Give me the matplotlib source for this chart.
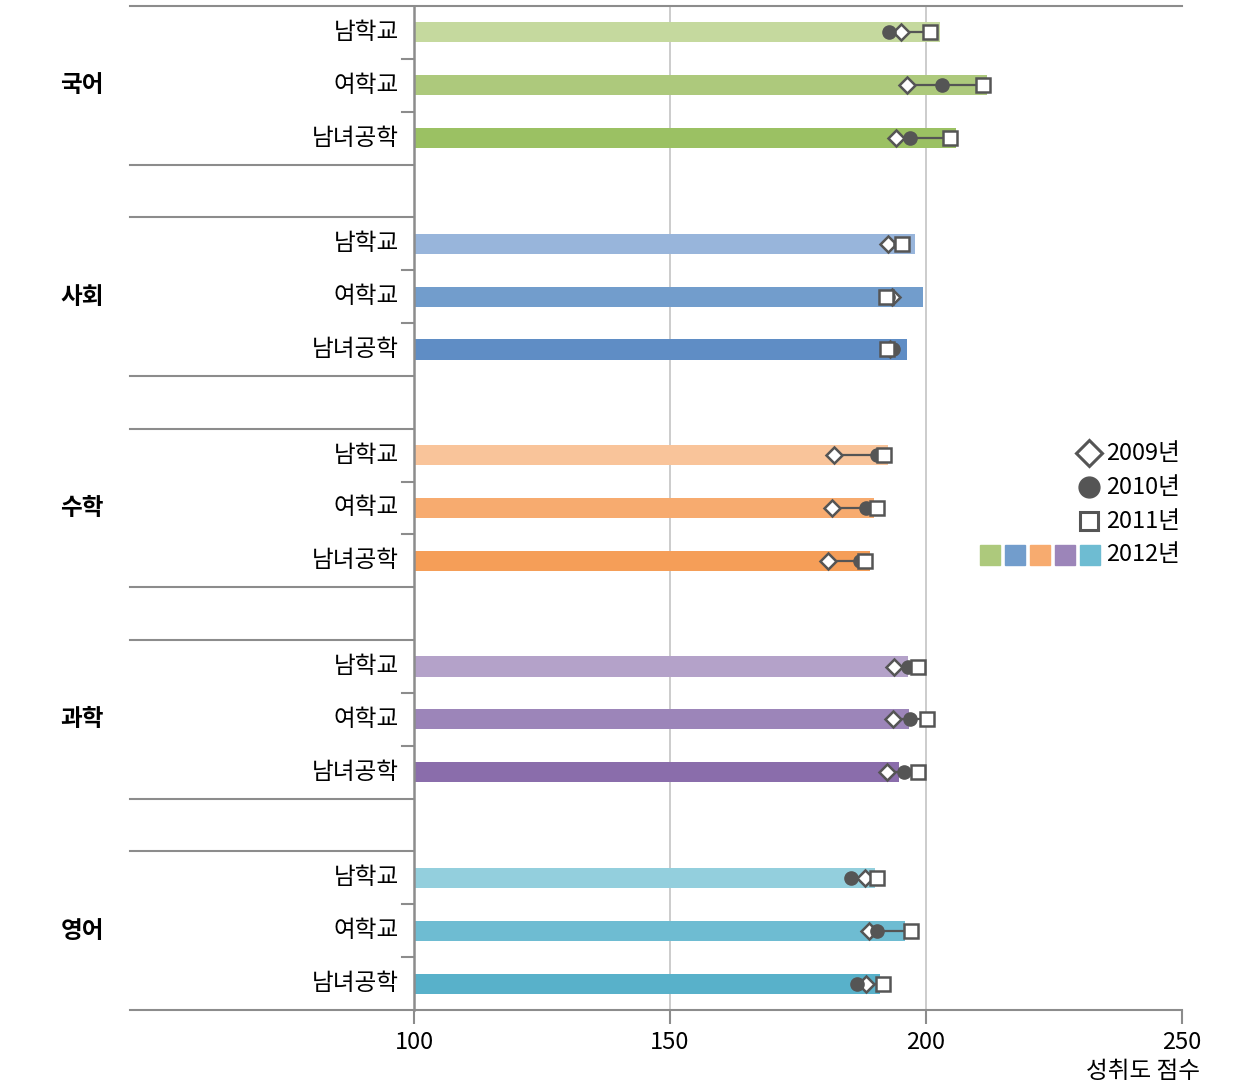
import matplotlib
matplotlib.use("Agg")
import matplotlib.pyplot as plt
import numpy as np

plt.rcParams['font.family'] = ['Noto Sans CJK KR', 'DejaVu Sans']

subjects = ['국어', '사회', '수학', '과학', '영어']
schools = ['남학교', '여학교', '남녀공학']

# 2012 bars, 2009/2010/2011 markers (rows: school within subject)
v2012 = [[202.7, 211.9, 205.9],
         [197.9, 199.4, 196.3],
         [192.6, 189.8, 189.1],
         [196.5, 196.7, 194.7],
         [190.0, 195.9, 191.0]]
v2009 = [[195.1, 196.3, 194.1],
         [192.6, 193.4, 193.0],
         [182.0, 181.6, 180.9],
         [193.8, 193.6, 192.4],
         [188.1, 188.9, 188.3]]
v2010 = [[192.8, 203.1, 196.9],
         [195.0, 192.6, 193.6],
         [190.4, 188.3, 187.1],
         [196.5, 196.9, 195.7],
         [185.4, 190.4, 186.5]]
v2011 = [[200.8, 211.1, 204.7],
         [195.3, 192.2, 192.4],
         [191.8, 190.4, 188.1],
         [198.4, 200.2, 198.4],
         [190.4, 197.1, 191.6]]

bar_colors = [['#c5d99e', '#adc97c', '#9bc163'],
              ['#98b5db', '#729dcc', '#5f8dc5'],
              ['#f9c49a', '#f7ab6f', '#f59e58'],
              ['#b4a2c9', '#9c85b9', '#8a6dab'],
              ['#93cfdd', '#6ebcd2', '#58b1ca']]
legend_colors = ['#adc97c', '#729dcc', '#f7ab6f', '#9c85b9', '#6ebcd2']
year_labels = ['2009년', '2010년', '2011년', '2012년']

dark = '#555555'
axis_gray = '#8c8c8c'

fig = plt.figure(figsize=(12.4, 10.85), dpi=100)
ax = fig.add_axes([414 / 1240, 1 - 1010 / 1085, 768 / 1240, 1004 / 1085])

n_rows = len(subjects) * 4 - 1
ax.set_ylim(n_rows - 0.5, -0.5)
ax.set_xlim(100, 250)

for g, subj in enumerate(subjects):
    for s, school in enumerate(schools):
        y = g * 4 + s
        ax.barh(y, v2012[g][s] - 100, left=100, height=0.38,
                color=bar_colors[g][s], zorder=2)
        vals = [v2009[g][s], v2010[g][s], v2011[g][s]]
        ax.plot([min(vals), max(vals)], [y, y], color=dark, lw=1.6, zorder=3)
        ax.plot(v2009[g][s], y, marker='D', ms=8.5, mfc='white', mec=dark,
                mew=1.8, zorder=4)
        ax.plot(v2010[g][s], y, marker='o', ms=9.5, mfc=dark, mec=dark,
                zorder=5)
        ax.plot(v2011[g][s], y, marker='s', ms=9.5, mfc='white', mec=dark,
                mew=1.8, zorder=6)
        ax.text(-0.02, y, school, transform=ax.get_yaxis_transform(),
                ha='right', va='center', fontsize=17)
        if s < 2:
            ax.plot([-0.016, 0], [y + 0.5, y + 0.5], color=axis_gray, lw=1.5,
                    transform=ax.get_yaxis_transform(), clip_on=False)
    ax.text(-0.432, g * 4 + 1, subj, transform=ax.get_yaxis_transform(),
            ha='center', va='center', fontsize=17, fontweight='bold')
    if g < len(subjects) - 1:
        for yy in (g * 4 + 2.5, g * 4 + 3.5):
            ax.plot([-0.37, 0], [yy, yy], color=axis_gray, lw=1.5,
                    transform=ax.get_yaxis_transform(), clip_on=False)

# outer frame lines
ax.plot([-0.37, 1], [1, 1], color=axis_gray, lw=1.5,
        transform=ax.transAxes, clip_on=False)
ax.plot([-0.37, 1], [0, 0], color=axis_gray, lw=1.5,
        transform=ax.transAxes, clip_on=False)

for x in (150, 200):
    ax.axvline(x, color='#c4c4c4', lw=1.2, zorder=1)

for sp in ['top', 'right', 'bottom']:
    ax.spines[sp].set_visible(False)
ax.spines['left'].set_color(axis_gray)
ax.spines['left'].set_linewidth(1.8)
ax.spines['left'].set_zorder(3)

ax.set_yticks([])
ax.set_xticks([100, 150, 200, 250])
ax.tick_params(axis='x', length=10, width=1.5, color=axis_gray,
               labelsize=17, pad=5)
ax.text(1.024, -0.061, '성취도 점수', transform=ax.transAxes,
        ha='right', va='center', fontsize=17)

# legend
lx = (1089 - 414) / 768
ly = [1 - (py - 6) / 1004 for py in (453, 487, 521, 555)]
tx = (1106 - 414) / 768
ax.plot(lx, ly[0], marker='D', ms=13, mfc='white', mec=dark, mew=2.2,
        transform=ax.transAxes, clip_on=False)
ax.plot(lx, ly[1], marker='o', ms=15, mfc=dark, mec=dark,
        transform=ax.transAxes, clip_on=False)
ax.plot(lx, ly[2], marker='s', ms=13, mfc='white', mec=dark, mew=2.2,
        transform=ax.transAxes, clip_on=False)
for i, c in enumerate(legend_colors):
    ax.plot((990 + 25 * i - 414) / 768, ly[3], marker='s', ms=15, mfc=c,
            mec=c, transform=ax.transAxes, clip_on=False)
for i, lab in enumerate(year_labels):
    ax.text(tx, ly[i], lab, transform=ax.transAxes, ha='left',
            va='center', fontsize=17)

fig.savefig('out.png', dpi=100)
